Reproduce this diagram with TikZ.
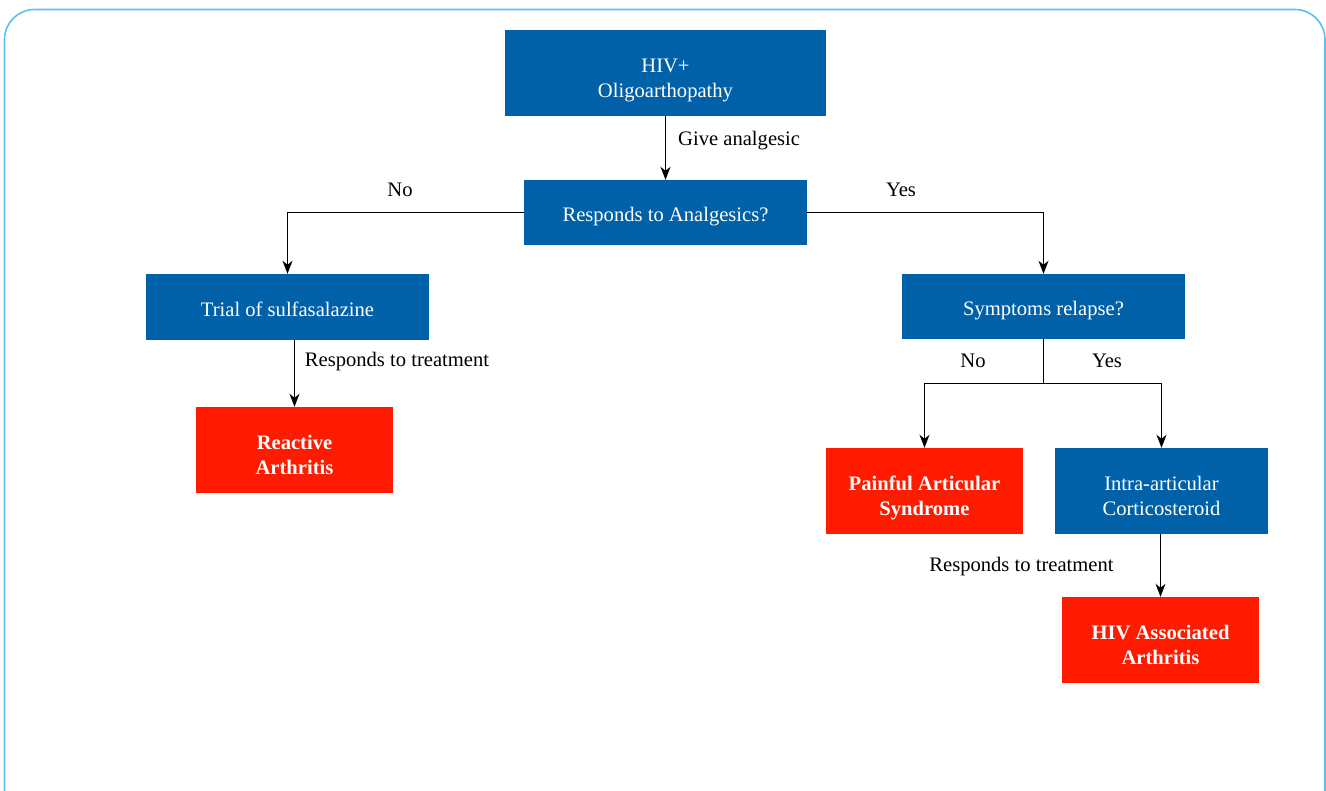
\documentclass[tikz,border=0pt]{standalone}
\usepackage{fontspec}
\setmainfont{Liberation Serif}
\usetikzlibrary{arrows.meta,calc}
\definecolor{boxblue}{RGB}{0,97,168}
\definecolor{boxred}{RGB}{255,26,0}
\definecolor{frameblue}{RGB}{90,192,242}
\tikzset{
  boxfont/.style={font=\fontsize{20.6}{25}\selectfont},
  bluebox/.style={fill=boxblue, text=white, align=center, inner sep=0pt, boxfont},
  redbox/.style={fill=boxred, text=white, align=center, inner sep=0pt, font=\fontsize{20.6}{25}\selectfont\bfseries},
  oneline/.style={minimum height=65pt, text height=18.4pt, text depth=0pt},
  twoline/.style={minimum height=86pt, text height=48.6pt, text depth=0pt},
  lbl/.style={text=black, inner sep=0pt, boxfont},
  conn/.style={line width=1.3pt, draw=black, -{Stealth[length=13pt,width=10pt,inset=4pt]}},
  plain/.style={line width=1.3pt, draw=black}
}
\begin{document}
\begin{tikzpicture}[x=1pt,y=-1pt]
\useasboundingbox (0,0) rectangle (1326,791);
\draw[frameblue, line width=1.6pt, rounded corners=30pt] (4.5,820) -- (4.5,9.5) -- (1325,9.5) -- (1325,820);

\node[bluebox, twoline, minimum width=321pt] (hiv) at (665.5,73) {HIV+\\Oligoarthopathy};
\node[bluebox, oneline, minimum width=283pt] (resp) at (665.5,212.5) {Responds to Analgesics?};
\node[bluebox, oneline, minimum width=283pt, minimum height=66pt] (trial) at (287.5,307) {Trial of sulfasalazine};
\node[bluebox, oneline, minimum width=283pt] (sym) at (1043.5,306.5) {Symptoms relapse?};
\node[redbox, twoline, minimum width=197pt] (reac) at (294.5,450) {Reactive\\Arthritis};
\node[redbox, twoline, minimum width=197pt] (pain) at (924.5,491) {Painful Articular\\Syndrome};
\node[bluebox, twoline, minimum width=213pt] (intra) at (1161.5,491) {Intra-articular\\Corticosteroid};
\node[redbox, twoline, minimum width=197pt] (hiva) at (1160.5,640) {HIV Associated\\Arthritis};

\draw[conn] (hiv.south) -- (resp.north);
\node[lbl, anchor=west] (lgive) at (678,141) {Give analgesic};

\draw[conn] (resp.west) -| (trial.north);
\node[lbl] (lno1) at (400,190) {No};
\draw[conn] (resp.east) -| (sym.north);
\node[lbl] (lyes1) at (901,190) {Yes};

\draw[conn] (trial.south -| reac.north) -- (reac.north);
\node[lbl] (ltr1) at (397,362) {Responds to treatment};

\coordinate (split) at ($(sym.south)+(0,44)$);
\draw[plain] (sym.south) -- (split);
\draw[conn] (split) -| (pain.north);
\draw[conn] (split) -| (intra.north);
\node[lbl] (lno2) at (973,361) {No};
\node[lbl] (lyes2) at (1107,361) {Yes};

\draw[conn] (intra.south -| hiva.north) -- (hiva.north);
\node[lbl] (ltr2) at (1021.5,567) {Responds to treatment};
\end{tikzpicture}
\end{document}
